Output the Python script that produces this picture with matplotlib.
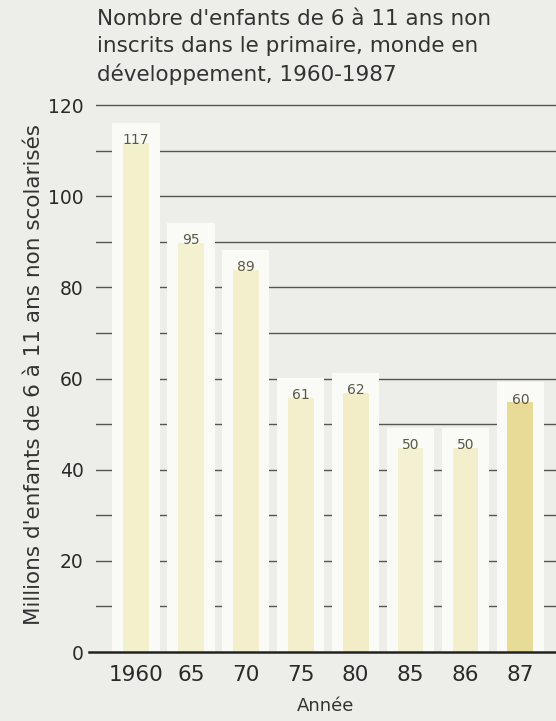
import numpy as np
import matplotlib.pyplot as plt

plt.rcParams['font.family'] = ['DejaVu Sans']

# Données
annees = ["1960", "65", "70", "75", "80", "85", "86", "87"]
enfants = [117, 95, 89, 61, 62, 50, 50, 60]
couleurs = ["#f3f0cc", "#f4f1d0", "#f3efcc", "#f3eecb", "#f2edc6", "#f4f0d2", "#f3efcd", "#e8db98"]

fig = plt.figure(figsize=(5.56, 7.21), dpi=100)
fig.patch.set_facecolor("#ededea")
ax = fig.add_axes([0.1727, 0.0957, 0.8273, 0.771])
ax.set_facecolor("#ededea")

x = np.arange(len(annees))

# lignes horizontales tous les 10
for niveau in range(10, 121, 10):
    ax.axhline(niveau, color="#555555", lw=1.0, zorder=1)

# halo blanc autour des barres (cache les lignes)
ax.bar(x, np.array(enfants) - 0.8, width=0.86, color="#fafaf6", zorder=2)
# barre jaune sous l'étiquette
ax.bar(x, np.array(enfants) - 5.2, width=0.47, color=couleurs, zorder=3)

for xi, v in zip(x, enfants):
    ax.text(xi, v - 4.6, str(v), ha="center", va="center", fontsize=10,
            color="#5a5845", zorder=4)

ax.axhline(0, color="#222222", lw=1.8, zorder=5, xmin=-0.015, clip_on=False)

ax.set_xlim(-0.73, 7.65)
ax.set_ylim(0, 122)
ax.set_yticks(range(0, 121, 20))
ax.set_xticks(x)
ax.set_xticklabels(annees)
ax.tick_params(axis="y", length=0, labelsize=13.5, colors="#2a2a2a", pad=9)
ax.tick_params(axis="x", length=0, labelsize=15.5, colors="#2a2a2a", pad=9)
for s in ax.spines.values():
    s.set_visible(False)

ax.set_xlabel("Année", fontsize=13, color="#333333", labelpad=9)
ax.set_ylabel("Millions d'enfants de 6 à 11 ans non scolarisés", fontsize=15.5,
              color="#333333", labelpad=3)

fig.text(0.174, 0.988,
         "Nombre d'enfants de 6 à 11 ans non\ninscrits dans le primaire, monde en\ndéveloppement, 1960-1987",
         ha="left", va="top", fontsize=15.5, color="#333333", linespacing=1.45)

fig.savefig("out.png", dpi=100, facecolor=fig.get_facecolor())
